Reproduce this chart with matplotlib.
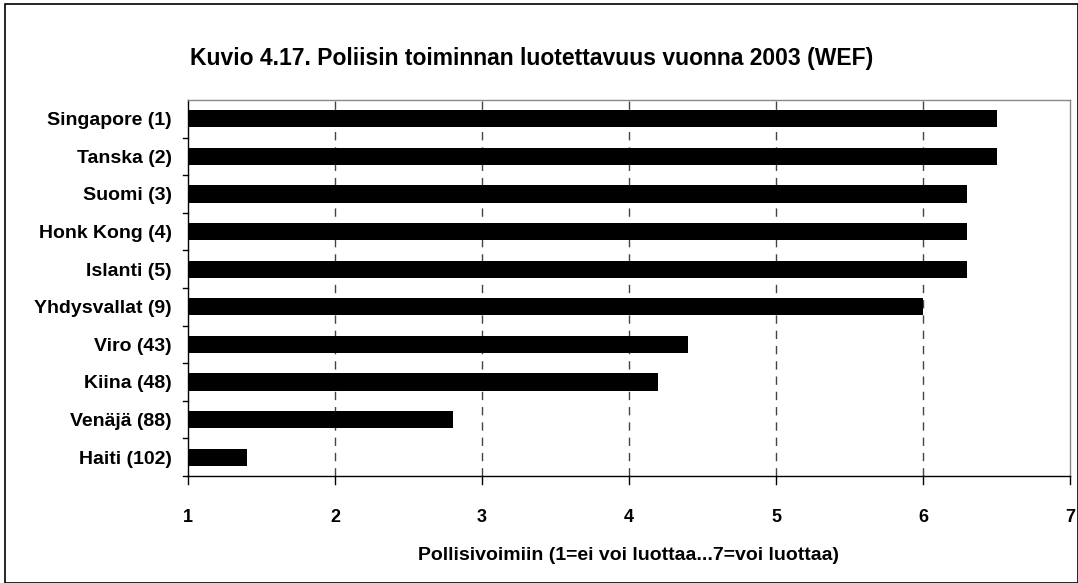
import matplotlib
matplotlib.use("Agg")
import matplotlib.pyplot as plt
from matplotlib.patches import Rectangle

countries = ["Singapore (1)", "Tanska (2)", "Suomi (3)", "Honk Kong (4)", "Islanti (5)",
             "Yhdysvallat (9)", "Viro (43)", "Kiina (48)", "Venäjä (88)", "Haiti (102)"]
scores = [6.5, 6.5, 6.3, 6.3, 6.3, 6.0, 4.4, 4.2, 2.8, 1.4]
xticks = [1, 2, 3, 4, 5, 6, 7]

plt.rcParams["font.family"] = ["Liberation Sans", "DejaVu Sans"]
plt.rcParams["font.weight"] = "bold"

fig = plt.figure(figsize=(10.78, 5.83), dpi=100)
ax = fig.add_axes([188 / 1078, 1 - 476 / 583, (1070 - 188) / 1078, (476 - 100) / 583])

ypos = list(range(len(countries)))[::-1]
ax.barh(ypos, [s - 1 for s in scores], left=1, height=0.46, color="black")

ax.set_xlim(1, 7)
ax.set_ylim(-0.5, len(countries) - 0.5)
ax.set_xticks(xticks)
ax.set_xticklabels([str(t) for t in xticks], fontsize=13, fontweight="bold")
ax.set_yticks(ypos)
ax.set_yticklabels(countries, fontsize=14, fontweight="bold")
ax.tick_params(axis="y", length=0, pad=11.5)
ax.tick_params(axis="x", length=0, pad=24)

# category separator ticks on y axis, ticks below x axis
for b in [i + 0.5 for i in range(len(countries) - 1)]:
    ax.plot([1 - 0.035, 1], [b, b], color="black", lw=1, clip_on=False)
ax.plot([1 - 0.035, 1], [-0.5, -0.5], color="black", lw=1, clip_on=False)
for t in xticks:
    ax.plot([t, t], [-0.5, -0.5 - 0.2], color="black", lw=1, clip_on=False)

for t in xticks[1:-1]:
    ax.axvline(t, color="#444444", lw=1, ls=(0, (6, 5)), zorder=0)

ax.spines["left"].set_color("black")
ax.spines["bottom"].set_color("black")
ax.spines["top"].set_color("#888888")
ax.spines["right"].set_color("#888888")
for s in ax.spines.values():
    s.set_linewidth(1)

ax.set_xlabel("Pollisivoimiin (1=ei voi luottaa...7=voi luottaa)", fontsize=14,
              fontweight="bold", labelpad=15)
fig.text(532 / 1078, 1 - 58 / 583, "Kuvio 4.17. Poliisin toiminnan luotettavuus vuonna 2003 (WEF)",
         ha="center", va="center", fontsize=16.5, fontweight="bold")

fig.patches.append(Rectangle((5 / 1078, 0), 1 - 5 / 1078, 1 - 4 / 583, transform=fig.transFigure,
                             fill=False, edgecolor="black", lw=1.2))

fig.savefig("out.png", dpi=100)
